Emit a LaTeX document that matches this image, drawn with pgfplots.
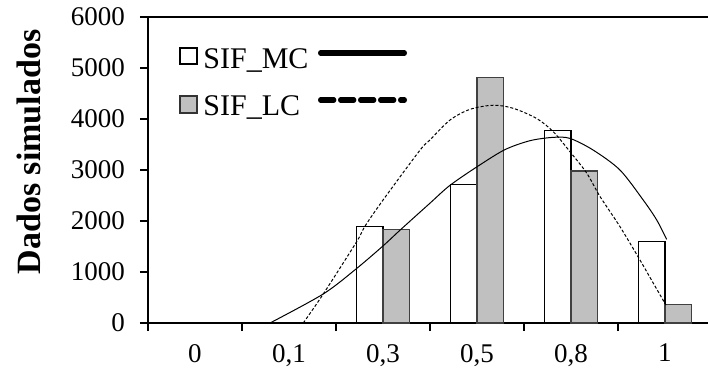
\documentclass[border=0pt]{standalone}
\usepackage{pgfplots}
\pgfplotsset{compat=1.18}
\usepackage{fontspec}
\setmainfont{Liberation Serif}
\definecolor{barg}{HTML}{C0C0C0}
\newcommand\tl[1]{\hbox{\fontsize{13.5}{16}\selectfont #1}}
\begin{document}
\begin{tikzpicture}
\path[use as bounding box] (0,0) rectangle (354pt,186pt);
\begin{axis}[
  at={(74pt,24.5pt)}, anchor=south west,
  scale only axis, width=282pt, height=153pt,
  xmin=-0.5, xmax=5.5, ymin=0, ymax=6000,
  axis line style={black, line width=0.6pt},
  tick pos=left, tick align=outside, major tick length=4pt,
  every tick/.append style={black, line width=0.6pt},
  ytick={0,1000,...,6000},
  yticklabel={\tl{\pgfmathprintnumber[assume math mode=true,1000 sep={}]{\tick}}},
  yticklabel style={xshift=-4pt},
  xtick={-0.5,0.5,...,4.5},
  xticklabels={},
  extra x ticks={0,1,2,3,4,5},
  extra x tick labels={{\tl{0}},{\tl{0,1}},{\tl{0,3}},{\tl{0,5}},{\tl{0,8}},{\tl{1}}},
  extra x tick style={major tick length=0pt, xticklabel style={yshift=-7pt}},
  ylabel={Dados simulados},
  ylabel style={font=\bfseries\fontsize{17}{20}\selectfont, at={(axis description cs:-0.2110,0.559)}, anchor=center},
]
\addplot[ybar, bar width=0.28, bar shift=-0.14, fill=white, draw=black, line width=0.6pt]
  coordinates {(2,1900) (3,2720) (4,3770) (5,1600)};
\addplot[ybar, bar width=0.28, bar shift=0.14, fill=barg, draw=black!75, line width=0.6pt]
  coordinates {(2,1830) (3,4810) (4,2980) (5,370)};
\addplot[black, line width=0.5pt, smooth] coordinates {
 (0.798,0) (1.365,570) (1.720,1070) (2.003,1516) (2.181,1820) (2.500,2350)
 (2.713,2700) (3.014,3080) (3.298,3400) (3.564,3575) (3.809,3640) (3.989,3620)
 (4.237,3390) (4.521,3000) (4.769,2410) (4.912,2020) (5.018,1640)};
\addplot[black, line width=0.5pt, smooth, dash pattern=on 1.5pt off 1pt] coordinates {
 (1.152,0) (1.365,570) (1.720,1595) (1.809,1900) (2.000,2410) (2.394,3390)
 (2.500,3590) (2.713,3980) (2.926,4190) (3.173,4270) (3.386,4210) (3.635,4010)
 (3.812,3750) (3.989,3360) (4.167,2940) (4.309,2480) (4.521,1890) (4.734,1235)
 (4.876,780) (5.011,350)};
\end{axis}
% legend
\draw[black, line width=0.6pt, fill=white] (90pt,154pt) rectangle (98.5pt,162pt);
\draw[black!80, line width=0.6pt, fill=barg] (90pt,129.5pt) rectangle (98.5pt,138pt);
\node[anchor=base west, inner sep=0pt, font=\fontsize{15}{18}\selectfont] at (101.5pt,152pt) {SIF\_MC};
\node[anchor=base west, inner sep=0pt, font=\fontsize{15}{18}\selectfont] at (101.5pt,128.5pt) {SIF\_LC};
\draw[black, line width=2.6pt, line cap=round] (160.3pt,159.5pt) -- (202.2pt,159.5pt);
\draw[black, line width=2.6pt, line cap=round, dash pattern=on 6.6pt off 3.4pt] (160.3pt,136pt) -- (202.2pt,136pt);
\end{tikzpicture}
\end{document}
